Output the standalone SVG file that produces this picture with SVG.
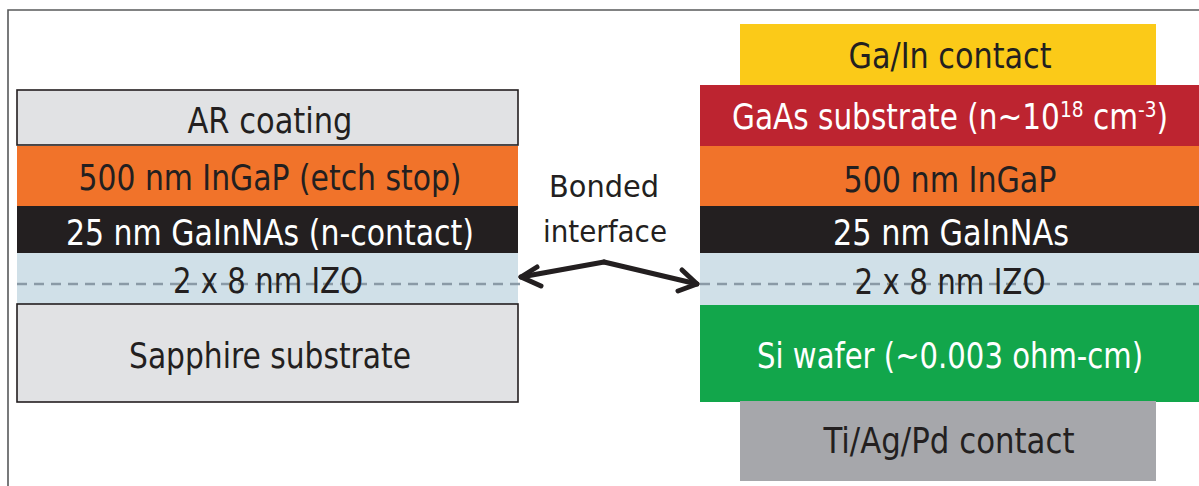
<svg xmlns="http://www.w3.org/2000/svg" width="1199" height="486" viewBox="0 0 1199 486">
<style>
text{font-family:"DejaVu Sans Condensed","DejaVu Sans","Liberation Sans",sans-serif;font-size:35px;text-anchor:middle}
.lbl{font-size:30px}
.dk{fill:#231f20}
.wt{fill:#ffffff}
.bord{stroke:#231f20;stroke-width:1.6}
.dash{stroke:#8a9aa6;stroke-width:2.4;stroke-dasharray:10 7;fill:none}
.arr{stroke:#231f20;stroke-width:5;fill:none;stroke-linecap:round;stroke-linejoin:round}
</style>
<rect width="1199" height="486" fill="#ffffff"/>
<path d="M8,486 V10 H1199" fill="none" stroke="#58595b" stroke-width="1.6"/>

<g id="left-stack">
<g id="ar-coating"><rect x="17" y="90" width="501" height="55" fill="#e1e2e4" class="bord"/><text x="270" y="133" class="dk" textLength="165" lengthAdjust="spacingAndGlyphs">AR coating</text></g>
<g id="ingap-left"><rect x="17" y="146" width="501" height="60" fill="#f1732a"/><text x="270" y="190" class="dk" textLength="383" lengthAdjust="spacingAndGlyphs">500 nm InGaP (etch stop)</text></g>
<g id="gainnas-left"><rect x="17" y="206" width="501" height="47" fill="#231f20"/><text x="270" y="245" class="wt" textLength="408" lengthAdjust="spacingAndGlyphs">25 nm GaInNAs (n-contact)</text></g>
<g id="izo-left"><rect x="17" y="253" width="501" height="51" fill="#d0e0e8"/><line x1="17" y1="284" x2="524" y2="284" class="dash"/><text x="268" y="293" class="dk" textLength="190" lengthAdjust="spacingAndGlyphs">2 x 8 nm IZO</text></g>
<g id="sapphire"><rect x="17" y="304" width="501" height="98" fill="#e1e2e4" class="bord"/><text x="270" y="368" class="dk" textLength="282" lengthAdjust="spacingAndGlyphs">Sapphire substrate</text></g>
</g>

<g id="bonded-label"><text x="604" y="197" class="dk lbl" textLength="110" lengthAdjust="spacingAndGlyphs">Bonded</text><text x="605" y="242" class="dk lbl" textLength="124" lengthAdjust="spacingAndGlyphs">interface</text></g>

<g id="right-stack">
<g id="gain-contact"><rect x="740" y="24" width="416" height="61" fill="#fbca18"/><text x="950" y="68" class="dk" textLength="203" lengthAdjust="spacingAndGlyphs">Ga/In contact</text></g>
<g id="gaas"><rect x="700" y="85" width="499" height="61" fill="#bd2430"/><text x="950" y="129" class="wt" font-size="33" textLength="436" lengthAdjust="spacingAndGlyphs">GaAs substrate (n~10<tspan font-size="22" dy="-12">18</tspan><tspan dy="12"> cm</tspan><tspan font-size="22" dy="-12">-3</tspan><tspan dy="12">)</tspan></text></g>
<g id="ingap-right"><rect x="700" y="146" width="499" height="60" fill="#f1732a"/><text x="950" y="192" class="dk" textLength="213" lengthAdjust="spacingAndGlyphs">500 nm InGaP</text></g>
<g id="gainnas-right"><rect x="700" y="206" width="499" height="47" fill="#231f20"/><text x="951" y="245" class="wt" textLength="236" lengthAdjust="spacingAndGlyphs">25 nm GaInNAs</text></g>
<g id="izo-right"><rect x="700" y="253" width="499" height="52" fill="#d0e0e8"/><line x1="700" y1="284" x2="1199" y2="284" class="dash"/><text x="950" y="294" class="dk" textLength="191" lengthAdjust="spacingAndGlyphs">2 x 8 nm IZO</text></g>
<g id="si-wafer"><rect x="700" y="305" width="499" height="97" fill="#12a64b"/><text x="950" y="368" class="wt" textLength="386" lengthAdjust="spacingAndGlyphs">Si wafer (~0.003 ohm-cm)</text></g>
<g id="tiagpd-contact"><rect x="740" y="401" width="416" height="80" fill="#a6a7ab"/><text x="949" y="453" class="dk" textLength="251" lengthAdjust="spacingAndGlyphs">Ti/Ag/Pd contact</text></g>
</g>

<g id="connectors">
<path d="M604,262 L521,277" class="arr"/>
<path d="M537,267 L521,277 L541,286" class="arr"/>
<path d="M604,262 L697,284" class="arr"/>
<path d="M682,270 L697,284 L678,291" class="arr"/>
</g>
</svg>
